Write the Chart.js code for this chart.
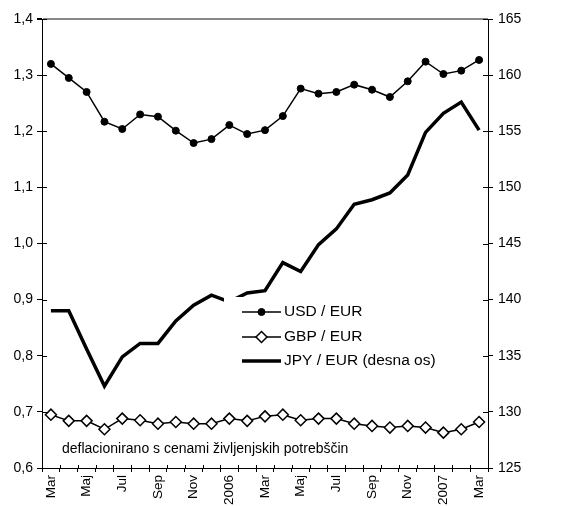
<!DOCTYPE html>
<html>
<head>
<meta charset="utf-8">
<script src="https://cdn.jsdelivr.net/npm/chart.js@4"></script>
<style>
    html, body { margin: 0; padding: 0; background: #fff; }
    #wrap { width: 567px; height: 506px; }
</style>
</head>
<body>
<div id="wrap"><canvas id="fxChart" width="567" height="506"></canvas></div>
<script>
// months Mar 2005 - Mar 2007, only every second one is labelled
const months = ["Mar", "Apr", "Maj", "Jun", "Jul", "Avg", "Sep", "Okt", "Nov", "Dec", "2006", "Feb",
    "Mar", "Apr", "Maj", "Jun", "Jul", "Avg", "Sep", "Okt", "Nov", "Dec", "2007", "Feb", "Mar"];

const usdEur = [1.320, 1.295, 1.270, 1.217, 1.204, 1.230, 1.226, 1.201, 1.179, 1.186, 1.211, 1.195,
    1.202, 1.227, 1.276, 1.267, 1.270, 1.283, 1.274, 1.261, 1.289, 1.324, 1.302, 1.308, 1.327];

const gbpEur = [0.695, 0.684, 0.684, 0.669, 0.688, 0.685, 0.679, 0.682, 0.679, 0.679, 0.688, 0.684,
    0.692, 0.695, 0.685, 0.688, 0.688, 0.679, 0.675, 0.672, 0.675, 0.672, 0.663, 0.669, 0.682];

const jpyEur = [139.0, 139.0, 135.6, 132.3, 134.9, 136.1, 136.1, 138.1, 139.5, 140.4, 139.8, 140.6,
    140.8, 143.3, 142.5, 144.9, 146.3, 148.5, 148.9, 149.5, 151.1, 154.9, 156.6, 157.6, 155.1];

const seriesNames = ["USD / EUR", "GBP / EUR", "JPY / EUR (desna os)"];
const noteText = "deflacionirano s cenami življenjskih potrebščin";

const FONT = "'Liberation Sans', Arial, sans-serif";
Chart.defaults.color = "#000";
Chart.defaults.font.family = FONT;

// short tick marks pointing into the plot, the original ticks cross the axes
const innerTicks = {
    id: "innerTicks",
    afterDraw(chart) {
        const ctx = chart.ctx;
        const area = chart.chartArea;
        ctx.save();
        ctx.strokeStyle = "#000";
        ctx.lineWidth = 1;
        ctx.beginPath();
        chart.scales.y.ticks.forEach((t, i) => {
            const y = Math.round(chart.scales.y.getPixelForTick(i)) + 0.5;
            ctx.moveTo(area.left, y);
            ctx.lineTo(area.left + 5, y);
        });
        chart.scales.y1.ticks.forEach((t, i) => {
            const y = Math.round(chart.scales.y1.getPixelForTick(i)) + 0.5;
            ctx.moveTo(area.right, y);
            ctx.lineTo(area.right - 5, y);
        });
        for (let i = 0; i <= months.length; i++) {
            const x = Math.round(chart.scales.x.getPixelForValue(i - 0.5)) + 0.5;
            ctx.moveTo(x, area.bottom);
            ctx.lineTo(x, area.bottom - 3);
        }
        ctx.stroke();
        ctx.restore();
    }
};

// legend sits inside the plot on a white box, plus the note text
const insideLegend = {
    id: "insideLegend",
    afterDatasetsDraw(chart) {
        const ctx = chart.ctx;
        ctx.save();
        ctx.fillStyle = "#fff";
        ctx.fillRect(224, 297, 240, 76);

        const rows = [312, 337, 361];
        const x0 = 242, x1 = 281;
        chart.data.datasets.forEach((ds, i) => {
            const y = rows[i];
            const cx = (x0 + x1) / 2;
            ctx.strokeStyle = "#000";
            ctx.lineWidth = ds.borderWidth;
            ctx.beginPath();
            ctx.moveTo(x0, y);
            ctx.lineTo(x1, y);
            ctx.stroke();
            if (ds.pointRadius > 0) {
                const r = ds.pointRadius;
                ctx.fillStyle = ds.pointBackgroundColor;
                ctx.lineWidth = ds.pointBorderWidth;
                ctx.beginPath();
                if (ds.pointStyle === "rectRot") {
                    ctx.moveTo(cx, y - r);
                    ctx.lineTo(cx + r, y);
                    ctx.lineTo(cx, y + r);
                    ctx.lineTo(cx - r, y);
                    ctx.closePath();
                } else {
                    ctx.arc(cx, y, r, 0, Math.PI * 2);
                }
                ctx.fill();
                ctx.stroke();
            }
            ctx.fillStyle = "#000";
            ctx.font = "15.5px " + FONT;
            ctx.textBaseline = "middle";
            ctx.textAlign = "left";
            ctx.fillText(ds.label, x1 + 3, y);
        });

        ctx.font = "14px " + FONT;
        ctx.textBaseline = "middle";
        ctx.fillText(noteText, 62, 449);
        ctx.restore();
    }
};

new Chart(document.getElementById("fxChart"), {
    type: "line",
    data: {
        labels: months,
        datasets: [
            {
                label: seriesNames[0],
                data: usdEur,
                yAxisID: "y",
                borderColor: "#000",
                borderWidth: 1.5,
                pointStyle: "circle",
                pointRadius: 3.5,
                pointBorderWidth: 1,
                pointBackgroundColor: "#000",
                pointBorderColor: "#000",
                tension: 0
            },
            {
                label: seriesNames[1],
                data: gbpEur,
                yAxisID: "y",
                borderColor: "#000",
                borderWidth: 1.5,
                pointStyle: "rectRot",
                pointRadius: 5.5,
                pointBorderWidth: 1.5,
                pointBackgroundColor: "#fff",
                pointBorderColor: "#000",
                tension: 0
            },
            {
                label: seriesNames[2],
                data: jpyEur,
                yAxisID: "y1",
                borderColor: "#000",
                borderWidth: 3.5,
                pointRadius: 0,
                pointBorderWidth: 0,
                pointBackgroundColor: "#000",
                tension: 0
            }
        ]
    },
    options: {
        responsive: false,
        animation: false,
        layout: { padding: { top: 19, left: 0, right: 0, bottom: 0 } },
        plugins: {
            legend: { display: false },
            tooltip: { enabled: false }
        },
        scales: {
            x: {
                offset: true,
                afterFit: s => { s.height = 38; },
                border: { color: "#000", width: 1 },
                grid: {
                    offset: true,
                    drawOnChartArea: false,
                    color: "#000",
                    tickLength: 4
                },
                ticks: {
                    autoSkip: false,
                    minRotation: 90,
                    maxRotation: 90,
                    padding: 3,
                    font: { size: 13.5 },
                    callback: (v, i) => (i % 2 === 0 ? months[i] : "")
                }
            },
            y: {
                position: "left",
                min: 0.6,
                max: 1.4,
                afterFit: s => { s.width = 42; },
                border: { color: "#000", width: 1 },
                grid: {
                    color: ctx => (ctx.index === 8 ? "#888" : "rgba(0,0,0,0)"),
                    tickColor: "#000",
                    tickLength: 5,
                    lineWidth: ctx => (ctx.index === 8 ? 2 : 1)
                },
                ticks: {
                    stepSize: 0.1,
                    padding: 4,
                    font: { size: 14 },
                    callback: v => v.toFixed(1).replace(".", ",")
                }
            },
            y1: {
                position: "right",
                min: 125,
                max: 165,
                afterFit: s => { s.width = 79; },
                border: { color: "#000", width: 1 },
                grid: {
                    drawOnChartArea: false,
                    color: "#000",
                    tickLength: 5
                },
                ticks: {
                    stepSize: 5,
                    padding: 5,
                    font: { size: 14 }
                }
            }
        }
    },
    plugins: [insideLegend, innerTicks]
});
</script>
</body>
</html>
